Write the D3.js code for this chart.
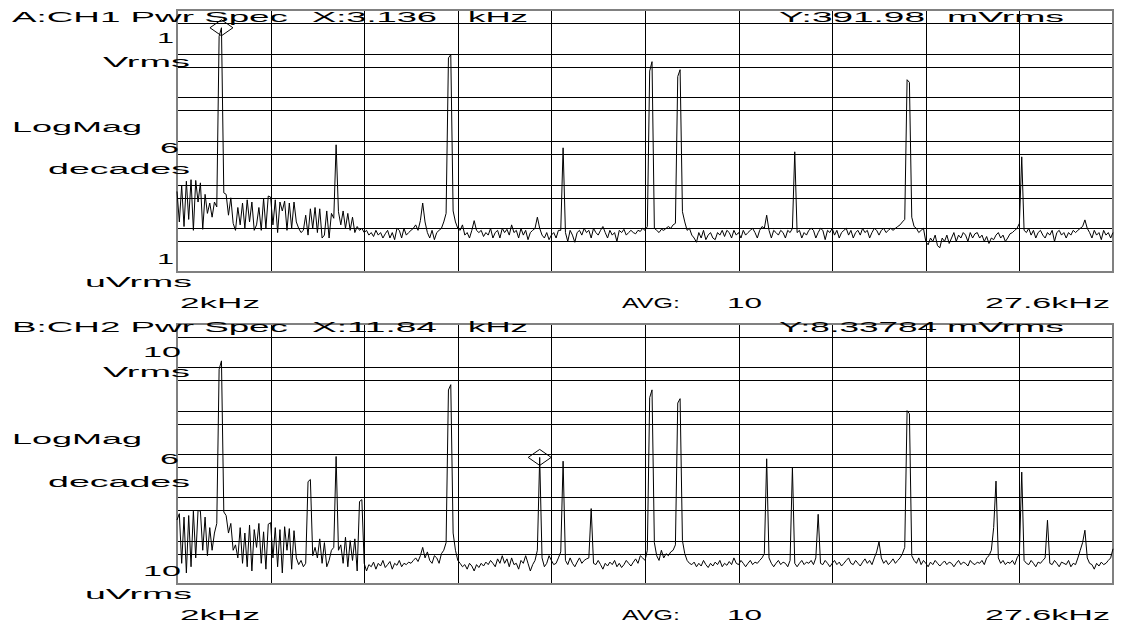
<!DOCTYPE html>
<html><head><meta charset="utf-8">
<script src="https://cdn.jsdelivr.net/npm/d3@7"></script>
<style>html,body{margin:0;padding:0;background:#fff}svg{display:block}</style>
</head><body>
<svg id="c" width="1136" height="626"></svg>
<script>
// ---------------- DATA ----------------
const binStartKHz = 2.0;          // first FFT line shown
const binStepKHz = 0.064;         // 25.6 kHz span / 400 lines
const freqDomainKHz = [2, 27.6];
const freqGridKHz = [2, 4.56, 7.12, 9.68, 12.24, 14.8, 17.36, 19.92, 22.48, 25.04, 27.6];

const ch1RangeUV = [1, 1e6];      // 1 uVrms .. 1 Vrms
const ch2RangeUV = [10, 1e7];     // 10 uVrms .. 10 Vrms
const ch1GridUV = [5, 10, 50, 100, 500, 1e3, 5e3, 1e4, 5e4, 1e5, 5e5];
const ch2GridUV = [50, 100, 500, 1e3, 5e3, 1e4, 5e4, 1e5, 5e5, 1e6, 5e6];

// CH1 power spectrum magnitude, uVrms, one value per line (401 lines)
const ch1Vrms_uV = [
 70,14,95,11,120,16,130,9,125,40,110,9.5,60,22,38,18,40,31,250000,391980,
 65,60,20,50,13,9,30,12,38,10,45,14,40,9,12,30,9,48,10,55,
 52,12,45,8,40,25,42,9,38,10,40,14,10,8,9,20,7,28,10,30,
 8,28,6,7,25,6,22,17,818,24,12,25,10,22,9,18,8,11,9,10,
 8,9,7,8,6.5,9,7,8,6,7.5,9,6,8,5.5,10,9,6,10,7,8,
 9,10,12,9,15,38,14,8,6,9,5.5,8,9,10,14,22,80000,94800,25,14,
 10,9,12,7,8,6,9,15,9,8,9,6.5,8,7,10,6,8,9,6,10,
 8,9.5,7,12,8,9,6,10,7,9,5.5,8,9,10,18,10,7,6,8,5.5,
 7,8,6,9,9,698,8,5,9,7,4.8,8,9,7,10,8,9,6,10,8,
 7,9,11,8,6,9,7,8,5,9,8,9.5,7,8,9,8,7.5,9,8.5,10,
 9,11,40000,65600,10,9,8,9.5,9,10,11,10,12,13,30000,43000,24,14,9,10,
 7,6,4.8,8,6,9,5.5,7,8,6,5.5,8,7,9,6.5,9,8,6,9,7,
 8,6,9,7,8,9,10,8,6,9,11,10,20,9,6,9,8,7,9,8,
 6,9,8,10,565,8,9,6,8,7,9,10,9,6,8,10,9,5.5,9,8,
 10,7,9,6,8,9,10,7,9,6,8,9,7,10,8,9,6,8,10,9,
 7,9,10,8,9,10,9,10,11,12,14,16,25300,22000,18,11,10,8,9,10,
 5,4.2,6,5,7,4,3.6,6,5,7,4.5,6,8,5,7,6,8,7,5,8,
 6,7.5,8,6,7,5,6.5,4.5,6,5.5,7,8,6,7,5,6,7.5,8,9,10,
 13,434,9,8,10,7,9,6,8,9,7,6,8,7,9,5,8,9,7,8,
 6,8,7,9,8,9,10,11,15.6,10,8,6,9,7,8,5.5,9,7,8,6,8
];

// CH2 power spectrum magnitude, uVrms, one value per line (401 lines)
const ch2Vrms_uV = [
 300,420,30,350,18,380,25,480,40,500,480,60,350,45,200,60,150,250,900000,1410000,
 460,380,150,250,60,80,40,200,30,150,25,230,20,180,70,250,30,160,22,240,
 260,40,200,25,180,18,210,60,190,22,170,40,28,35,25,30,2300,2580,45,70,
 40,110,30,90,25,35,60,70,8750,60,80,30,120,25,100,35,110,20,800,885,
 30,20,28,25,32,22,30,26,35,24,28,33,22,30,27,35,25,30,28,32,
 30,35,40,33,45,70,40,55,35,30,45,40,30,50,60,90,300000,398000,150,60,
 35,30,25,28,22,30,26,20,28,24,30,26,32,28,35,30,25,38,30,45,
 30,38,25,40,28,30,22,35,30,45,30,20,28,35,60,8338,40,25,30,45,
 35,28,30,40,55,6830,35,28,40,30,25,32,40,30,35,38,40,550,30,28,
 35,28,22,30,26,32,28,35,25,30,24,28,35,30,26,32,38,30,45,40,
 35,60,200000,302000,90,45,35,60,40,50,45,55,60,80,150000,189000,100,50,35,30,
 28,32,25,30,26,35,28,24,30,26,32,28,35,25,30,27,33,28,40,30,
 28,35,30,25,30,35,28,32,30,35,40,50,7760,40,30,25,30,35,28,32,
 30,25,35,4970,30,25,30,35,28,32,30,35,28,40,406,30,28,35,30,25,
 30,35,28,32,26,30,35,40,30,28,35,30,26,32,38,30,35,28,40,55,
 94,40,30,35,28,32,38,30,35,40,50,70,100000,85000,45,35,30,40,28,35,
 30,25,32,28,35,30,26,30,34,28,32,30,25,30,35,28,32,30,26,35,
 30,28,32,30,35,28,40,45,60,200,2370,40,30,35,28,32,30,35,28,40,
 50,3820,35,30,28,35,30,25,32,30,35,40,296,30,28,35,30,25,32,30,
 28,35,25,30,28,40,60,90,174,40,30,28,22,30,26,32,28,30,35,40,65
];

const markerBins = [19, 155];

const ch1Texts = { title: "A:CH1 Pwr Spec", xRead: "X:3.136", xUnit: "kHz", yRead: "Y:391.98", yUnit: "mVrms",
  top: "1", topUnit: "Vrms", scaleName: "LogMag", decades: "6", decUnit: "decades", bot: "1", botUnit: "uVrms",
  start: "2kHz", avg: "AVG:", avgN: "10", stop: "27.6kHz" };
const ch2Texts = { title: "B:CH2 Pwr Spec", xRead: "X:11.84", xUnit: "kHz", yRead: "Y:8.33784", yUnit: "mVrms",
  top: "10", topUnit: "Vrms", scaleName: "LogMag", decades: "6", decUnit: "decades", bot: "10", botUnit: "uVrms",
  start: "2kHz", avg: "AVG:", avgN: "10", stop: "27.6kHz" };

// ---------------- DRAW ----------------
const svg = d3.select("#c");
const FONT = "'Liberation Sans', Arial, Helvetica, sans-serif";

function label(g, txt, x0, x1, y) {
  g.append("text").attr("x", x0).attr("y", y)
    .attr("textLength", x1 - x0).attr("lengthAdjust", "spacingAndGlyphs")
    .attr("font-family", FONT).attr("font-size", 14).attr("fill", "#000")
    .text(txt);
}

function panel(cfg) {
  const { top, bottom, values, domainUV, gridUV, texts, markerBin, lay } = cfg;
  const left = 177, right = 1113;
  const x = d3.scaleLinear().domain(freqDomainKHz).range([left, right]);
  const y = d3.scaleLog().domain(domainUV).range([bottom, top]);
  const g = svg.append("g");

  // horizontal grid
  g.append("g").selectAll("line").data(gridUV).join("line")
    .attr("x1", left).attr("x2", right)
    .attr("y1", d => Math.round(y(d)) + 0.5).attr("y2", d => Math.round(y(d)) + 0.5)
    .attr("stroke", "#000").attr("stroke-width", 1).attr("shape-rendering", "crispEdges");
  // vertical grid
  g.append("g").selectAll("line").data(freqGridKHz.slice(1, -1)).join("line")
    .attr("x1", d => Math.round(x(d)) + 0.5).attr("x2", d => Math.round(x(d)) + 0.5)
    .attr("y1", top).attr("y2", bottom)
    .attr("stroke", "#000").attr("stroke-width", 1).attr("shape-rendering", "crispEdges");
  // border
  g.append("rect").attr("x", left).attr("y", top).attr("width", right - left).attr("height", bottom - top)
    .attr("fill", "none").attr("stroke", "#808080").attr("stroke-width", 2);

  // trace
  const line = d3.line()
    .x((d, i) => x(binStartKHz + i * binStepKHz))
    .y(d => y(Math.min(Math.max(d, domainUV[0]), domainUV[1])));
  g.append("path").datum(values).attr("d", line)
    .attr("fill", "none").attr("stroke", "#000").attr("stroke-width", 1).attr("stroke-linejoin", "miter");

  // marker diamond
  const mx = x(binStartKHz + markerBin * binStepKHz), my = y(values[markerBin]);
  g.append("path").attr("d", `M${mx},${my - 8}L${mx + 11.5},${my}L${mx},${my + 8}L${mx - 11.5},${my}Z`)
    .attr("fill", "none").attr("stroke", "#000").attr("stroke-width", 1);

  // texts
  const t = texts, o = top;
  label(g, t.title, 12, 288, lay.title);
  label(g, t.xRead, 312, 437, lay.title);
  label(g, t.xUnit, 468, 528, lay.title);
  label(g, t.yRead, lay.yReadX0, lay.yReadX1, lay.title);
  label(g, t.yUnit, 947, 1064, lay.title);
  label(g, t.top, lay.topX0, lay.topX1, o + 33);
  label(g, t.topUnit, 103, 190, o + lay.vr);
  label(g, t.scaleName, 12, 142, o + lay.lm);
  label(g, t.decades, 160, 179, o + lay.six);
  label(g, t.decUnit, 48, 190, o + lay.dec);
  label(g, t.bot, lay.topX0, lay.topX1, bottom - 8);
  label(g, t.botUnit, 85, 192, bottom + 15);
  label(g, t.start, 180, 260, bottom + 36);
  label(g, t.avg, 622, 680, bottom + 36);
  label(g, t.avgN, 727, 762, bottom + 36);
  label(g, t.stop, 985, 1110, bottom + 36);
}

panel({ top: 10, bottom: 272, values: ch1Vrms_uV, domainUV: ch1RangeUV, gridUV: ch1GridUV, texts: ch1Texts,
  markerBin: markerBins[0],
  lay: { title: 22, yReadX0: 779, yReadX1: 925,
         topX0: 157, topX1: 174, vr: 57, lm: 122, six: 143, dec: 164 } });
panel({ top: 324, bottom: 584, values: ch2Vrms_uV, domainUV: ch2RangeUV, gridUV: ch2GridUV, texts: ch2Texts,
  markerBin: markerBins[1],
  lay: { title: 332, yReadX0: 779, yReadX1: 937,
         topX0: 143, topX1: 181, vr: 53, lm: 120, six: 140, dec: 163 } });
</script>
</body></html>
